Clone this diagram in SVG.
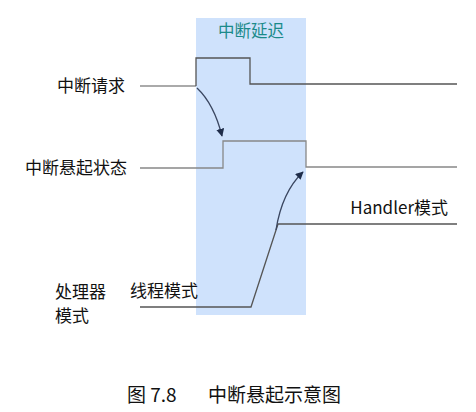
<svg xmlns="http://www.w3.org/2000/svg" width="476" height="412" viewBox="0 0 476 412">
<defs>
<style>
text{font-family:"Noto Sans CJK SC","Noto Sans",sans-serif;fill:#111;font-size:17px}
.sig{fill:none;stroke:#555;stroke-width:1.3}
.light{fill:none;stroke:#aaa;stroke-width:2}
.arr{fill:none;stroke:#3a4660;stroke-width:1.3}
.cap{font-size:19px}
</style>
<marker id="ah" viewBox="0 0 10 10" refX="9" refY="5" markerWidth="8" markerHeight="8" orient="auto" markerUnits="userSpaceOnUse">
<path d="M0,0 L10,5 L0,10 z" fill="#1f2d4a"/>
</marker>
</defs>
<rect id="delay-band" x="196" y="18" width="110" height="297" fill="#cfe2fc"/>
<g id="delay-label"><text x="251" y="37" text-anchor="middle" style="fill:#1b8a8a;font-size:16.5px">中断延迟</text></g>
<g id="irq">
<text x="125" y="92" text-anchor="end">中断请求</text>
</g>
<g id="pending">
<text x="127" y="174" text-anchor="end">中断悬起状态</text>
</g>
<g id="mode">
<text x="55" y="298">处理器</text>
<text x="55" y="322">模式</text>
<text x="130" y="297">线程模式</text>
<text x="448" y="214" text-anchor="end">Handler模式</text>
</g>
<g id="connectors">
<path class="light" d="M140,86 H196"/>
<path class="sig" d="M196,86 V58 H250 V84 H457"/>
<path class="sig" d="M140,168 H223 V141 H306 V167 H457" style="stroke:#888"/>
<path class="sig" d="M140,307 H251 L278,224 H457"/>
<path class="arr" d="M197,88 Q214,104 222,136" marker-end="url(#ah)"/>
<path class="arr" d="M276,230 Q282,192 303,172" marker-end="url(#ah)"/>
</g>
<g id="caption"><text class="cap" x="127" y="402">图 7.8</text><text class="cap" x="208" y="402">中断悬起示意图</text></g>
</svg>
